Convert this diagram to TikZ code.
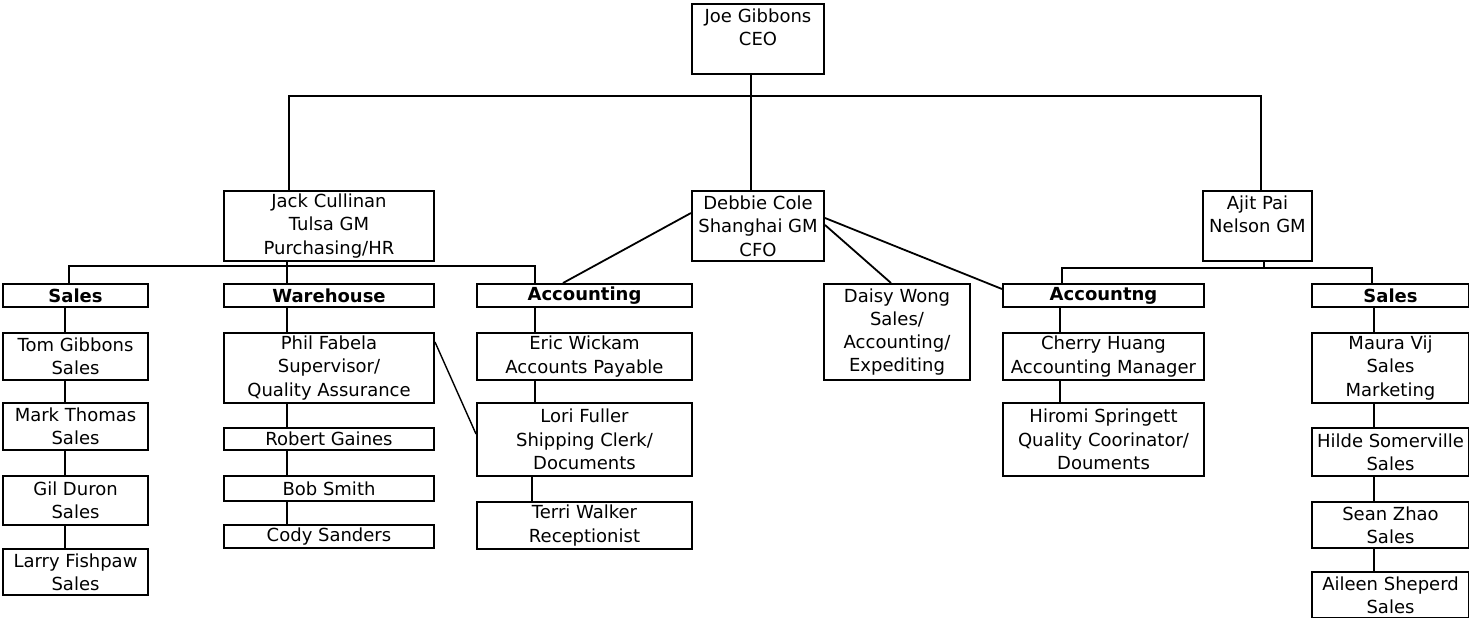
\documentclass[tikz,border=0pt]{standalone}
\usepackage{fontspec}
\setmainfont{DejaVu Sans}
\usetikzlibrary{calc}
\begin{document}
\begin{tikzpicture}[x=1pt,y=-1pt,
  box/.style={draw, line width=2pt, inner sep=0pt, align=center, anchor=north west,
    font=\fontsize{18}{23.3}\selectfont},
  head/.style={box, font=\fontsize{18}{23.3}\selectfont\bfseries},
  wh/.style 2 args={minimum width=#1pt, minimum height=#2pt},
  link/.style={line width=1.8pt}]
\useasboundingbox (0,0) rectangle (1469,618);
% top level
\node[box, wh={132}{70}] (ceo) at (691,3) {Joe Gibbons\\CEO\\\mbox{}};
\node[box, wh={210}{70}] (jack) at (223,190) {Jack Cullinan\\Tulsa GM\\Purchasing/HR};
\node[box, wh={132}{70}] (debbie) at (691,190) {Debbie Cole\\Shanghai GM\\CFO};
\node[box, wh={109}{70}] (ajit) at (1202,190) {Ajit Pai\\Nelson GM\\\mbox{}};
% department headers
\node[head, wh={145}{23}] (sales1) at (2,283) {Sales};
\node[head, wh={210}{23}] (wh) at (223,283) {Warehouse};
\node[head, wh={215}{23}] (acc1) at (476,283) {Accounting};
\node[box, wh={146}{96}] (daisy) at (823,283) {Daisy Wong\\Sales/\\Accounting/\\Expediting};
\node[head, wh={201}{23}] (acc2) at (1002,283) {Accountng};
\node[head, wh={157}{23}] (sales2) at (1311,283) {Sales};
% Tulsa sales
\node[box, wh={145}{47}] (tom) at (2,332) {Tom Gibbons\\Sales};
\node[box, wh={145}{47}] (mark) at (2,402) {Mark Thomas\\Sales};
\node[box, wh={145}{49}] (gil) at (2,475) {Gil Duron\\Sales};
\node[box, wh={145}{46}] (larry) at (2,548) {Larry Fishpaw\\Sales};
% warehouse
\node[box, wh={210}{70}] (phil) at (223,332) {Phil Fabela\\Supervisor/\\Quality Assurance};
\node[box, wh={210}{22}] (robert) at (223,427) {Robert Gaines};
\node[box, wh={210}{25}] (bob) at (223,475) {Bob Smith};
\node[box, wh={210}{23}] (cody) at (223,524) {Cody Sanders};
% accounting (Tulsa)
\node[box, wh={215}{47}] (eric) at (476,332) {Eric Wickam\\Accounts Payable};
\node[box, wh={215}{73}] (lori) at (476,402) {Lori Fuller\\Shipping Clerk/\\Documents};
\node[box, wh={215}{47}] (terri) at (476,501) {Terri Walker\\Receptionist};
% accounting (Nelson)
\node[box, wh={201}{47}] (cherry) at (1002,332) {Cherry Huang\\Accounting Manager};
\node[box, wh={201}{73}] (hiromi) at (1002,402) {Hiromi Springett\\Quality Coorinator/\\Douments};
% sales (Nelson)
\node[box, wh={157}{70}] (maura) at (1311,332) {Maura Vij\\Sales\\Marketing};
\node[box, wh={157}{48}] (hilde) at (1311,427) {Hilde Somerville\\Sales};
\node[box, wh={157}{46}] (sean) at (1311,501) {Sean Zhao\\Sales};
\node[box, wh={157}{46}] (aileen) at (1311,571) {Aileen Sheperd\\Sales};
% bus coordinates
\coordinate (ceoX) at (751,96);
\coordinate (jT) at (289,96);
\coordinate (aT) at (1261,96);
\coordinate (jb) at (287,266);
\coordinate (sL) at (69,266);
\coordinate (aL) at (535,266);
\coordinate (ab) at (1264,268);
\coordinate (acR) at (1062,268);
\coordinate (sR) at (1372,268);
\coordinate (c1) at (65,0);
\coordinate (c2) at (287,0);
\coordinate (c3) at (535,0);
\coordinate (c3b) at (532,0);
\coordinate (c4) at (1060,0);
\coordinate (c5) at (1374,0);
% top level connectors
\draw[link] (ceo.south -| ceoX) -- (debbie.north -| ceoX);
\draw[link] (jack.north -| jT) |- (aT) -- (ajit.north -| aT);
% Tulsa bus
\draw[link] (jack.south -| jb) -- (wh.north -| jb);
\draw[link] (sales1.north -| sL) |- (aL) -- (acc1.north -| aL);
% Nelson bus
\draw[link] (ajit.south -| ab) -- (ab);
\draw[link] (acc2.north -| acR) |- (sR) -- (sales2.north -| sR);
% Debbie diagonals
\draw[link] ($(debbie.north west)+(0,23)$) -- ($(acc1.north west)+(87,0)$);
\draw[link] ($(debbie.north east)+(0,35)$) -- ($(daisy.north west)+(68,0)$);
\draw[link] ($(debbie.north east)+(0,28)$) -- ($(acc2.north west)+(0,6)$);
% Phil to Lori
\draw[link, line width=1.4pt] ($(phil.north east)+(0,10)$) -- ($(lori.north west)+(0,32)$);
% columns
\draw[link] (sales1.south -| c1) -- (tom.north -| c1);
\draw[link] (tom.south -| c1) -- (mark.north -| c1);
\draw[link] (mark.south -| c1) -- (gil.north -| c1);
\draw[link] (gil.south -| c1) -- (larry.north -| c1);
\draw[link] (wh.south -| c2) -- (phil.north -| c2);
\draw[link] (phil.south -| c2) -- (robert.north -| c2);
\draw[link] (robert.south -| c2) -- (bob.north -| c2);
\draw[link] (bob.south -| c2) -- (cody.north -| c2);
\draw[link] (acc1.south -| c3) -- (eric.north -| c3);
\draw[link] (eric.south -| c3) -- (lori.north -| c3);
\draw[link] (lori.south -| c3b) -- (terri.north -| c3b);
\draw[link] (acc2.south -| c4) -- (cherry.north -| c4);
\draw[link] (cherry.south -| c4) -- (hiromi.north -| c4);
\draw[link] (sales2.south -| c5) -- (maura.north -| c5);
\draw[link] (maura.south -| c5) -- (hilde.north -| c5);
\draw[link] (hilde.south -| c5) -- (sean.north -| c5);
\draw[link] (sean.south -| c5) -- (aileen.north -| c5);
\end{tikzpicture}
\end{document}
